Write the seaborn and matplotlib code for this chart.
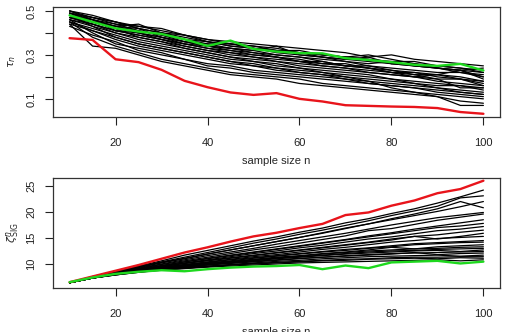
import numpy as np
import pandas as pd
import matplotlib
matplotlib.use("Agg")
import matplotlib.pyplot as plt
import seaborn as sns

# sample sizes
n_vals = list(range(10, 101, 5))

# top panel: tau_n, one row per simulated path
tau_black = [
    [0.49, 0.47, 0.44, 0.43, 0.41, 0.39, 0.37, 0.36, 0.35, 0.34, 0.33, 0.32, 0.31, 0.29, 0.30, 0.28, 0.27, 0.26, 0.25],
    [0.50, 0.47, 0.45, 0.42, 0.40, 0.38, 0.36, 0.35, 0.34, 0.33, 0.31, 0.30, 0.29, 0.28, 0.27, 0.27, 0.25, 0.24, 0.23],
    [0.48, 0.46, 0.43, 0.44, 0.40, 0.37, 0.35, 0.35, 0.33, 0.32, 0.31, 0.29, 0.28, 0.29, 0.26, 0.26, 0.24, 0.23, 0.22],
    [0.49, 0.46, 0.44, 0.41, 0.39, 0.36, 0.35, 0.33, 0.32, 0.34, 0.30, 0.29, 0.27, 0.26, 0.27, 0.25, 0.24, 0.22, 0.21],
    [0.47, 0.45, 0.42, 0.40, 0.38, 0.36, 0.34, 0.33, 0.31, 0.30, 0.29, 0.28, 0.27, 0.25, 0.24, 0.23, 0.22, 0.22, 0.20],
    [0.48, 0.45, 0.43, 0.42, 0.38, 0.35, 0.33, 0.32, 0.31, 0.29, 0.28, 0.26, 0.26, 0.24, 0.23, 0.22, 0.21, 0.23, 0.19],
    [0.50, 0.46, 0.41, 0.39, 0.37, 0.35, 0.33, 0.31, 0.30, 0.29, 0.27, 0.26, 0.25, 0.25, 0.23, 0.21, 0.21, 0.20, 0.18],
    [0.46, 0.43, 0.40, 0.38, 0.36, 0.34, 0.32, 0.30, 0.29, 0.27, 0.26, 0.25, 0.24, 0.23, 0.22, 0.21, 0.19, 0.19, 0.17],
    [0.47, 0.44, 0.40, 0.37, 0.35, 0.33, 0.31, 0.29, 0.28, 0.27, 0.25, 0.24, 0.23, 0.22, 0.21, 0.20, 0.18, 0.17, 0.16],
    [0.45, 0.42, 0.39, 0.36, 0.34, 0.32, 0.30, 0.28, 0.27, 0.25, 0.24, 0.23, 0.22, 0.21, 0.19, 0.18, 0.17, 0.16, 0.15],
    [0.48, 0.43, 0.38, 0.35, 0.33, 0.31, 0.29, 0.27, 0.26, 0.24, 0.23, 0.22, 0.21, 0.20, 0.19, 0.17, 0.16, 0.16, 0.14],
    [0.44, 0.41, 0.37, 0.34, 0.32, 0.30, 0.28, 0.26, 0.25, 0.23, 0.22, 0.21, 0.20, 0.19, 0.18, 0.17, 0.15, 0.14, 0.13],
    [0.46, 0.40, 0.35, 0.33, 0.31, 0.28, 0.26, 0.25, 0.23, 0.22, 0.21, 0.20, 0.19, 0.18, 0.17, 0.16, 0.15, 0.13, 0.12],
    [0.43, 0.39, 0.36, 0.32, 0.30, 0.28, 0.25, 0.24, 0.22, 0.21, 0.20, 0.19, 0.18, 0.17, 0.16, 0.15, 0.13, 0.12, 0.11],
    [0.45, 0.38, 0.34, 0.31, 0.28, 0.26, 0.24, 0.22, 0.21, 0.20, 0.19, 0.17, 0.16, 0.15, 0.14, 0.13, 0.12, 0.11, 0.10],
    [0.44, 0.34, 0.33, 0.30, 0.27, 0.25, 0.23, 0.21, 0.20, 0.19, 0.17, 0.16, 0.15, 0.14, 0.13, 0.12, 0.11, 0.09, 0.08],
    [0.47, 0.44, 0.41, 0.40, 0.38, 0.36, 0.34, 0.33, 0.32, 0.30, 0.29, 0.27, 0.25, 0.24, 0.22, 0.20, 0.19, 0.15, 0.15],
    [0.49, 0.45, 0.42, 0.38, 0.36, 0.33, 0.31, 0.29, 0.27, 0.26, 0.24, 0.22, 0.20, 0.18, 0.15, 0.13, 0.11, 0.07, 0.07],
    [0.48, 0.46, 0.43, 0.41, 0.39, 0.37, 0.36, 0.34, 0.33, 0.31, 0.30, 0.29, 0.28, 0.27, 0.26, 0.25, 0.24, 0.23, 0.24],
    [0.49, 0.47, 0.45, 0.42, 0.40, 0.39, 0.36, 0.34, 0.33, 0.32, 0.32, 0.30, 0.29, 0.30, 0.28, 0.26, 0.25, 0.24, 0.22],
    [0.50, 0.48, 0.45, 0.43, 0.42, 0.39, 0.37, 0.35, 0.34, 0.32, 0.31, 0.30, 0.29, 0.28, 0.26, 0.25, 0.24, 0.23, 0.20],
    [0.47, 0.45, 0.43, 0.40, 0.37, 0.35, 0.34, 0.32, 0.30, 0.29, 0.27, 0.27, 0.25, 0.24, 0.22, 0.22, 0.20, 0.19, 0.18],
    [0.46, 0.44, 0.41, 0.39, 0.37, 0.34, 0.32, 0.31, 0.29, 0.28, 0.27, 0.25, 0.24, 0.22, 0.21, 0.20, 0.21, 0.19, 0.16],
    [0.45, 0.41, 0.38, 0.35, 0.33, 0.31, 0.29, 0.27, 0.25, 0.24, 0.22, 0.21, 0.19, 0.17, 0.16, 0.15, 0.14, 0.13, 0.12],
]
tau_red = [0.376, 0.368, 0.28, 0.267, 0.232, 0.182, 0.153, 0.129, 0.118, 0.126,
           0.10, 0.088, 0.071, 0.068, 0.065, 0.063, 0.058, 0.040, 0.032]
tau_green = [0.48, 0.45, 0.421, 0.406, 0.395, 0.371, 0.341, 0.365, 0.327, 0.315,
             0.308, 0.307, 0.285, 0.277, 0.267, 0.255, 0.25, 0.259, 0.229]

# bottom panel: zeta^n_SIG
zeta_black = [
    [6.4, 7.6, 8.6, 9.6, 10.6, 11.7, 12.6, 13.5, 14.4, 15.2, 16.1, 16.9, 17.9, 18.7, 19.7, 20.6, 21.7, 22.9, 24.2],
    [6.4, 7.5, 8.5, 9.5, 10.4, 11.3, 12.2, 13.1, 14.0, 14.8, 15.7, 16.5, 17.4, 18.3, 19.3, 20.2, 21.1, 22.7, 23.1],
    [6.4, 7.5, 8.4, 9.3, 10.2, 11.0, 11.9, 12.7, 13.5, 14.3, 15.1, 15.9, 16.8, 17.7, 18.7, 19.6, 20.6, 22.0, 20.8],
    [6.4, 7.5, 8.4, 9.2, 10.0, 10.8, 11.6, 12.3, 13.0, 13.8, 14.5, 15.2, 15.9, 16.7, 17.5, 18.2, 18.9, 19.4, 19.9],
    [6.4, 7.4, 8.3, 9.1, 9.9, 10.6, 11.3, 12.0, 12.7, 13.3, 14.0, 14.7, 15.4, 16.4, 16.8, 17.6, 18.4, 19.0, 19.6],
    [6.4, 7.4, 8.3, 9.0, 9.7, 10.4, 11.0, 11.6, 12.2, 12.8, 13.4, 14.0, 14.6, 15.2, 15.8, 16.4, 17.0, 17.3, 17.8],
    [6.4, 7.4, 8.2, 8.9, 9.6, 10.2, 10.8, 11.4, 12.0, 12.5, 13.1, 13.6, 14.2, 14.8, 15.2, 15.8, 16.4, 16.7, 17.2],
    [6.4, 7.4, 8.2, 8.9, 9.5, 10.1, 10.6, 11.1, 11.6, 12.1, 12.6, 13.1, 13.6, 14.1, 14.6, 15.3, 14.8, 15.3, 15.9],
    [6.4, 7.4, 8.1, 8.8, 9.4, 9.9, 10.4, 10.9, 11.4, 11.8, 12.3, 12.8, 13.2, 13.7, 14.2, 14.5, 14.9, 15.1, 15.3],
    [6.4, 7.3, 8.1, 8.7, 9.3, 9.8, 10.2, 10.6, 11.1, 11.5, 11.9, 12.3, 12.6, 13.0, 13.3, 13.7, 13.9, 14.1, 14.2],
    [6.4, 7.3, 8.1, 8.7, 9.2, 9.7, 10.1, 10.5, 10.9, 11.3, 11.6, 12.0, 12.3, 12.7, 13.2, 12.9, 13.3, 13.5, 13.7],
    [6.4, 7.3, 8.0, 8.6, 9.1, 9.5, 9.9, 10.3, 10.6, 11.0, 11.3, 11.6, 11.9, 12.1, 12.3, 12.5, 12.6, 12.4, 12.7],
    [6.4, 7.3, 8.0, 8.6, 9.0, 9.4, 9.8, 10.1, 10.4, 10.7, 11.0, 11.3, 11.5, 11.7, 11.9, 12.2, 11.8, 12.0, 12.1],
    [6.4, 7.3, 8.0, 8.5, 9.0, 9.3, 9.6, 9.9, 10.2, 10.5, 10.7, 11.0, 11.2, 11.4, 11.5, 11.6, 11.7, 11.5, 11.7],
    [6.4, 7.3, 7.9, 8.5, 8.9, 9.2, 9.5, 9.8, 10.0, 10.2, 10.4, 10.6, 10.7, 10.9, 11.0, 11.1, 11.0, 11.2, 11.1],
    [6.4, 7.3, 7.9, 8.4, 8.8, 9.1, 9.4, 9.6, 9.8, 10.0, 10.2, 10.3, 10.4, 10.5, 10.6, 10.7, 10.8, 10.6, 10.8],
    [6.4, 7.3, 8.0, 8.6, 9.1, 9.6, 10.0, 10.4, 10.7, 11.1, 11.4, 11.7, 12.0, 12.3, 12.5, 12.6, 12.8, 12.9, 13.0],
    [6.4, 7.4, 8.1, 8.7, 9.3, 9.8, 10.3, 10.8, 11.2, 11.6, 12.0, 12.4, 12.8, 13.1, 13.5, 13.9, 14.1, 14.3, 14.5],
    [6.4, 7.4, 8.2, 8.9, 9.5, 10.1, 10.7, 11.2, 11.7, 12.2, 12.7, 13.2, 13.7, 14.2, 14.8, 15.3, 15.6, 16.1, 16.5],
    [6.4, 7.4, 8.3, 9.0, 9.7, 10.4, 11.1, 11.7, 12.3, 12.9, 13.5, 14.1, 14.7, 15.4, 16.0, 16.7, 17.3, 17.9, 18.5],
    [6.4, 7.3, 8.0, 8.5, 9.0, 9.4, 9.8, 10.2, 10.5, 10.8, 11.1, 11.3, 11.6, 11.8, 12.0, 12.1, 12.2, 12.3, 12.4],
    [6.4, 7.3, 7.9, 8.4, 8.9, 9.2, 9.5, 9.8, 10.1, 10.3, 10.5, 10.7, 10.9, 11.0, 11.2, 11.3, 11.3, 11.4, 11.4],
    [6.4, 7.5, 8.5, 9.4, 10.3, 11.1, 11.9, 12.7, 13.5, 14.3, 15.1, 16.0, 16.9, 17.7, 18.5, 19.3, 20.1, 21.0, 22.0],
    [6.4, 7.3, 8.0, 8.6, 9.1, 9.6, 10.0, 10.4, 10.8, 11.2, 11.5, 11.9, 12.2, 12.5, 12.7, 12.9, 13.0, 13.2, 13.3],
]
zeta_red = [6.5, 7.6, 8.7, 9.8, 11.0, 12.2, 13.2, 14.3, 15.3, 16.0,
            16.9, 17.7, 19.4, 19.9, 21.2, 22.2, 23.6, 24.4, 26.0]
zeta_green = [6.5, 7.4, 8.1, 8.5, 8.8, 8.6, 9.0, 9.3, 9.5, 9.6,
              9.8, 9.0, 9.7, 9.2, 10.3, 10.45, 10.6, 10.1, 10.45]


def to_long(paths):
    """Stack a list of paths into a long dataframe for seaborn."""
    rows = []
    for i, path in enumerate(paths):
        for n, v in zip(n_vals, path):
            rows.append((i, n, v))
    return pd.DataFrame(rows, columns=["run", "n", "value"])


sns.set_style("ticks")
plt.rcParams["font.family"] = ["Liberation Sans", "DejaVu Sans"]
plt.rcParams["mathtext.fontset"] = "dejavusans"
plt.rcParams.update({
    "xtick.bottom": True, "ytick.left": True,
    "xtick.direction": "out", "ytick.direction": "out",
    "xtick.major.size": 6, "ytick.major.size": 6,
    "xtick.major.width": 0.8, "ytick.major.width": 0.8,
    "xtick.color": "#222222", "ytick.color": "#222222",
    "xtick.labelsize": 8, "ytick.labelsize": 8,
})

fig = plt.figure(figsize=(5.05, 3.32), dpi=100)
ax1 = fig.add_axes([0.105, 0.648, 0.885, 0.331])
ax2 = fig.add_axes([0.105, 0.1325, 0.885, 0.331])


def draw_panel(ax, black, red, green):
    sns.lineplot(data=to_long(black), x="n", y="value", units="run", estimator=None,
                 color="black", lw=0.9, ax=ax)
    sns.lineplot(x=n_vals, y=red, color="#e8141b", lw=1.7, ax=ax)
    sns.lineplot(x=n_vals, y=green, color="#1ed81e", lw=1.7, ax=ax)
    ax.set_xlim(6.4, 103.6)
    ax.set_xticks([20, 40, 60, 80, 100])
    ax.set_xlabel("sample size n", fontsize=8, labelpad=6)
    for s in ax.spines.values():
        s.set_visible(True)
        s.set_color("#333333")
        s.set_linewidth(0.9)
    ax.tick_params(axis="x", pad=9)
    ax.tick_params(axis="y", pad=6)


draw_panel(ax1, tau_black, tau_red, tau_green)
ax1.set_ylim(0.018, 0.518)
ax1.set_yticks([0.1, 0.2, 0.3, 0.4, 0.5])
ax1.set_yticklabels(["0.1", "", "0.3", "", "0.5"], rotation=90, va="center")
ax1.set_ylabel(r"$\tau_n$", fontsize=8, labelpad=6)

draw_panel(ax2, zeta_black, zeta_red, zeta_green)
ax2.set_ylim(5.38, 26.5)
ax2.set_yticks([10, 15, 20, 25])
ax2.set_yticklabels(["10", "15", "20", "25"], rotation=90, va="center")
ax2.set_ylabel(r"$\zeta^n_{\mathrm{SIG}}$", fontsize=8, labelpad=4)

fig.savefig("out.png", dpi=100)
